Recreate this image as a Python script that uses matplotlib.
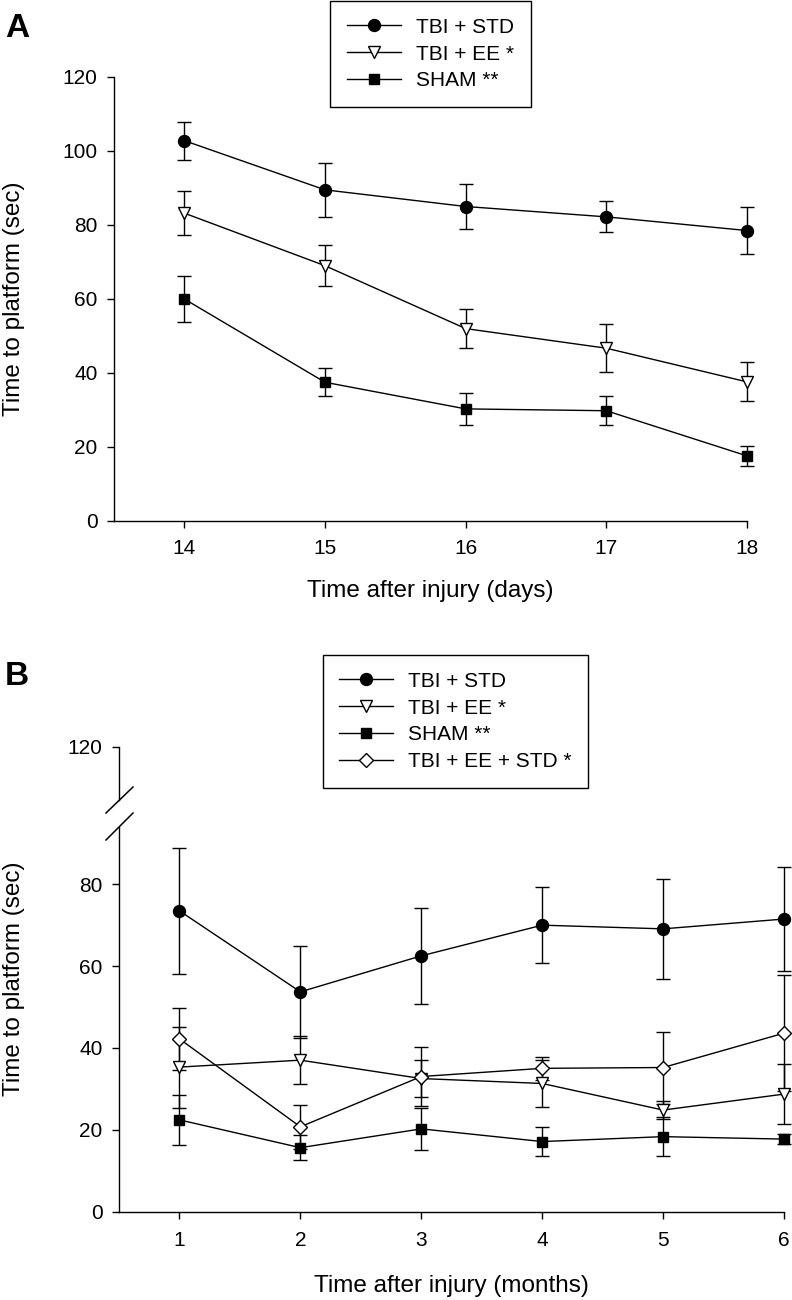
import matplotlib
matplotlib.use("Agg")
import matplotlib.pyplot as plt
from matplotlib.lines import Line2D

plt.rcParams["font.family"] = ["Liberation Sans", "DejaVu Sans"]

# panel A: days after injury
days = [14, 15, 16, 17, 18]
a_std = [102.8, 89.5, 85.0, 82.2, 78.5]
a_std_err = [5.1, 7.3, 6.0, 4.2, 6.3]
a_ee = [83.2, 69.0, 52.0, 46.7, 37.6]
a_ee_err = [5.9, 5.5, 5.3, 6.5, 5.3]
a_sham = [60.0, 37.5, 30.3, 29.8, 17.6]
a_sham_err = [6.2, 3.8, 4.3, 3.9, 2.8]

# panel B: months after injury
months = [1, 2, 3, 4, 5, 6]
b_std = [73.5, 53.7, 62.5, 70.0, 69.1, 71.5]
b_std_err = [15.4, 11.3, 11.8, 9.3, 12.2, 12.7]
b_ee = [35.3, 37.0, 32.5, 31.3, 24.8, 28.7]
b_ee_err = [9.9, 5.9, 4.5, 5.7, 2.2, 7.4]
b_sham = [22.4, 15.6, 20.2, 17.1, 18.3, 17.7]
b_sham_err = [6.1, 3.0, 5.2, 3.6, 4.7, 1.3]
b_ee_std = [42.2, 20.7, 33.0, 35.0, 35.2, 43.6]
b_ee_std_err = [7.6, 5.3, 7.2, 2.8, 8.8, 14.2]

labels = ["TBI + STD", "TBI + EE *", "SHAM **", "TBI + EE + STD *"]
styles = [
    dict(marker="o", ms=8.6, mfc="black"),
    dict(marker="v", ms=8.6, mfc="white"),
    dict(marker="s", ms=7.2, mfc="black"),
    dict(marker="D", ms=7.5, mfc="white"),
]

W, H = 792, 1300
FS = 15
LFS = 17.5


def fx(px):
    return px / W


def fy(px):
    return 1 - px / H


def draw_series(ax, x, y, err, style, label):
    ax.errorbar(x, y, yerr=err, fmt="none", ecolor="black", elinewidth=1.0,
                capsize=4.7, capthick=1.0, zorder=2, clip_on=False)
    ax.plot(x, y, color="black", lw=1.0, mec="black", mew=1.0, zorder=3,
            label=label, clip_on=False, **style)


def style_axes(ax):
    for side in ["top", "right"]:
        ax.spines[side].set_visible(False)
    for side in ["left", "bottom"]:
        ax.spines[side].set_linewidth(1.0)
    ax.tick_params(direction="out", length=4.8, width=1.0, labelsize=FS)
    ax.tick_params(axis="y", pad=7)
    ax.tick_params(axis="x", pad=8)


def add_legend(ax, cx, top):
    leg = ax.legend(loc="upper center", bbox_to_anchor=(fx(cx), fy(top)),
                    bbox_transform=ax.figure.transFigure, fontsize=FS,
                    frameon=True, fancybox=False, framealpha=1,
                    edgecolor="black", handlelength=2.6, handletextpad=0.7,
                    labelspacing=0.38, borderpad=0.8, borderaxespad=0)
    leg.get_frame().set_linewidth(1.0)


fig = plt.figure(figsize=(W / 100, H / 100), dpi=100)

# ---- panel A
ax_a = fig.add_axes([fx(114), fy(521), fx(747) - fx(114), fy(77) - fy(521)])
draw_series(ax_a, days, a_std, a_std_err, styles[0], labels[0])
draw_series(ax_a, days, a_ee, a_ee_err, styles[1], labels[1])
draw_series(ax_a, days, a_sham, a_sham_err, styles[2], labels[2])
ax_a.set_xlim(13.5, 18)
ax_a.set_ylim(0, 120)
ax_a.set_xticks(days)
ax_a.set_yticks(range(0, 121, 20))
style_axes(ax_a)
add_legend(ax_a, 430.5, 1)

fig.text(fx(5), fy(37), "A", fontsize=24, fontweight="bold", va="baseline")
fig.text(fx(14), fy(299), "Time to platform (sec)", rotation=90,
         ha="center", va="center", fontsize=LFS)
fig.text(fx(430.5), fy(597), "Time after injury (days)", ha="center",
         va="baseline", fontsize=LFS)

# ---- panel B (broken y axis)
ax_b = fig.add_axes([fx(119), fy(1211.5), fx(784) - fx(119), fy(827) - fy(1211.5)])
ax_bt = fig.add_axes([fx(119), fy(800), fx(784) - fx(119), fy(747) - fy(800)],
                     sharex=ax_b)
series_b = [(b_std, b_std_err), (b_ee, b_ee_err), (b_sham, b_sham_err),
            (b_ee_std, b_ee_std_err)]
for (vals, errs), st, lab in zip(series_b, styles, labels):
    draw_series(ax_b, months, vals, errs, st, lab)
ax_b.set_xlim(0.5, 6)
ax_b.set_ylim(0, 94)
ax_b.set_xticks(months)
ax_b.set_yticks(range(0, 81, 20))
style_axes(ax_b)
ax_b.tick_params(axis="x", pad=9)

ax_bt.set_ylim(107, 120)
ax_bt.set_yticks([120])
ax_bt.patch.set_visible(False)
style_axes(ax_bt)
ax_bt.spines["bottom"].set_visible(False)
ax_bt.tick_params(axis="x", bottom=False, labelbottom=False)
add_legend(ax_b, 455.3, 655)

# break marks on the y axis
for y0, y1 in [(813, 787), (840, 813)]:
    fig.add_artist(Line2D([fx(106), fx(133)], [fy(y0), fy(y1)],
                          color="black", lw=1.1))

fig.text(fx(5), fy(685), "B", fontsize=24, fontweight="bold", va="baseline")
fig.text(fx(14), fy(979), "Time to platform (sec)", rotation=90,
         ha="center", va="center", fontsize=LFS)
fig.text(fx(451.5), fy(1291.7), "Time after injury (months)", ha="center",
         va="baseline", fontsize=LFS)

fig.savefig("out.png", dpi=100)
